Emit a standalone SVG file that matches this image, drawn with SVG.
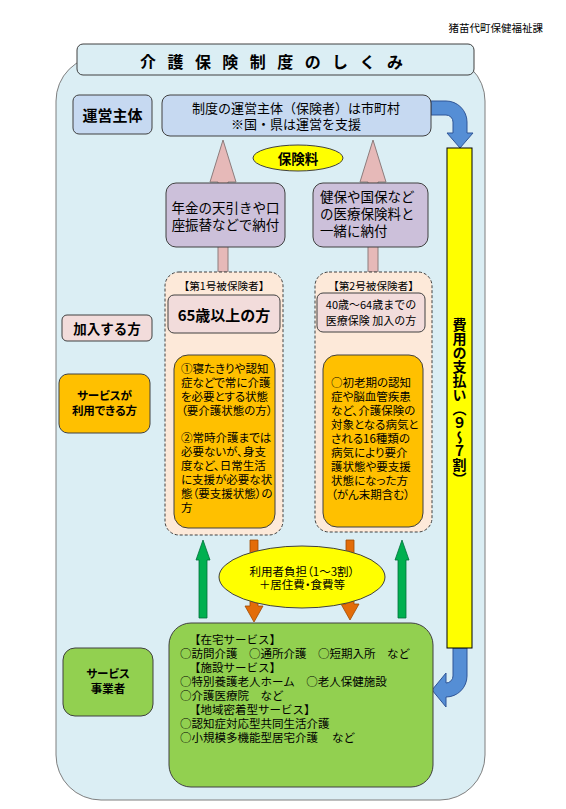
<svg xmlns="http://www.w3.org/2000/svg" width="566" height="809" viewBox="0 0 566 809">
<defs>
<style>
text{font-family:"Noto Sans CJK JP","Noto Sans CJK SC",sans-serif;fill:#000;dominant-baseline:central}
.b{font-weight:bold}
.m{text-anchor:middle}
.p{font-feature-settings:"palt"}
.bx{stroke:#404040;stroke-width:1}
.dash{fill:#fde9d9;stroke:#404040;stroke-width:1;stroke-dasharray:3 2}
.org{fill:#ffc000;stroke:#404040;stroke-width:1}
.pink{fill:#e6b9b8;stroke:#8c7c7c;stroke-width:1}
.red{fill:#ff0000;stroke:#c00000;stroke-width:1}
.oar{fill:#e36c09;stroke:#a04a00;stroke-width:0.8}
.gar{fill:#00b050;stroke:#00703a;stroke-width:0.8}
.blue{fill:#558ed5;stroke:#2f5597;stroke-width:1}
</style>
</defs>
<rect width="566" height="809" fill="#fff"/>
<text x="543" y="27" text-anchor="end" font-size="10.5">猪苗代町保健福祉課</text>
<rect id="frame" x="56" y="56" width="429" height="744" rx="45" fill="#dbeef4" stroke="#7f7f7f"/>

<g id="title">
<rect x="77" y="44" width="397" height="31" rx="6" fill="#dbeef4" class="bx"/>
<text class="b m" font-size="16" x="148 175.4 202.9 230.3 257.8 285.2 312.7 340.1 367.6 395" y="61">介護保険制度のしくみ</text>
</g>

<g id="connectors">
<polygon class="pink" points="223,140 236,182 228,182 228,272 218,272 218,182 210,182"/>
<polygon class="pink" points="373,140 386,182 378,182 378,272 368,272 368,182 360,182"/>
<polygon class="red" points="220,335 226,335 226,345 232,345 223,355 214,345 220,345"/>
<polygon class="red" points="372,335 378,335 378,345 384,345 375,355 366,345 372,345"/>
<polygon class="oar" points="250,540 258,540 258,606 263,606 254,622 245,606 250,606"/>
<polygon class="oar" points="346,540 354,540 354,604 359,604 350,620 341,604 346,604"/>
<polygon class="gar" points="203,540 210,560 207,560 207,618 199,618 199,560 196,560"/>
<polygon class="gar" points="402,540 409,560 406,560 406,618 398,618 398,560 395,560"/>
<path class="blue" d="M431,101 H446 A21,21 0 0 1 467,122 V133 H473 L460,148 L447,133 H453 V122 A7,7 0 0 0 446,115 H431 Z"/>
<path class="blue" d="M453,648 H467 V676 A21,21 0 0 1 446,697 V707 L432,690 L446,673 V683 A7,7 0 0 0 453,676 Z"/>
</g>

<g id="unei-label">
<rect x="73" y="95" width="79" height="39" rx="6" fill="#c6d9f1" class="bx"/>
<text class="b m" x="112.5" y="114.5" font-size="15">運営主体</text>
</g>
<g id="unei-main">
<rect x="162" y="95" width="269" height="41" rx="8" fill="#c6d9f1" class="bx"/>
<text class="m" font-size="13"><tspan x="296" y="107">制度の運営主体（保険者）は市町村</tspan><tspan x="296" y="123">※国・県は運営を支援</tspan></text>
</g>
<g id="hokenryo">
<ellipse cx="298" cy="158" rx="45" ry="13" fill="#ffff00" class="bx"/>
<text class="b m" x="298" y="158" font-size="13.5">保険料</text>
</g>
<g id="nofu1">
<rect x="166" y="183" width="119" height="64" rx="10" fill="#ccc0da" class="bx"/>
<text class="m" font-size="13.5"><tspan x="225.5" y="207">年金の天引きや口</tspan><tspan x="225.5" y="224">座振替などで納付</tspan></text>
</g>
<g id="nofu2">
<rect x="313" y="183" width="115" height="64" rx="10" fill="#ccc0da" class="bx"/>
<text font-size="13.5"><tspan x="320" y="196">健保や国保など</tspan><tspan x="320" y="213">の医療保険料と</tspan><tspan x="320" y="230">一緒に納付</tspan></text>
</g>

<g id="kanyu-label">
<rect x="62" y="315" width="90" height="26" rx="5" fill="#f2dcdb" class="bx"/>
<text class="b m" x="107" y="328" font-size="13.5">加入する方</text>
</g>
<g id="riyou-label">
<rect x="59" y="374" width="91" height="59" rx="9" class="org"/>
<text class="b m p" font-size="11.5"><tspan x="104.5" y="395">サービスが</tspan><tspan x="104.5" y="410">利用できる方</tspan></text>
</g>
<g id="jigyosha-label">
<rect x="63" y="648" width="90" height="68" rx="12" fill="#92d050" class="bx"/>
<text class="b m p" font-size="11.5"><tspan x="108" y="673">サービス</tspan><tspan x="108" y="688">事業者</tspan></text>
</g>

<g id="hihokensha1">
<rect x="165" y="272" width="118" height="263" rx="14" class="dash"/>
<text class="m" x="224" y="285" font-size="10.6">【第1号被保険者】</text>
<rect x="168" y="295" width="112" height="38" rx="6" fill="#f2dcdb" class="bx"/>
<text class="b m" x="224" y="314" font-size="15">65歳以上の方</text>
<rect x="174" y="355" width="101" height="173" rx="14" class="org"/>
<text class="p" font-size="11.5"><tspan x="181" y="368">①寝たきりや認知</tspan><tspan x="181" y="382">症などで常に介護</tspan><tspan x="181" y="396">を必要とする状態</tspan><tspan x="181" y="410">（要介護状態の方）</tspan><tspan x="181" y="437">②常時介護までは</tspan><tspan x="181" y="451">必要ないが、身支</tspan><tspan x="181" y="465">度など、日常生活</tspan><tspan x="181" y="479">に支援が必要な状</tspan><tspan x="181" y="493">態（要支援状態）の</tspan><tspan x="181" y="507">方</tspan></text>
</g>

<g id="hihokensha2">
<rect x="315" y="272" width="117" height="260" rx="14" class="dash"/>
<text class="m" x="373.5" y="285" font-size="10.6">【第2号被保険者】</text>
<rect x="317" y="293" width="108" height="39" rx="6" fill="#f2dcdb" class="bx"/>
<text class="m" font-size="11"><tspan x="371" y="304">40歳～64歳までの</tspan><tspan x="371" y="320">医療保険 加入の方</tspan></text>
<rect x="323" y="355" width="100" height="172" rx="14" class="org"/>
<text class="p" font-size="11.5"><tspan x="331" y="382">○初老期の認知</tspan><tspan x="331" y="396">症や脳血管疾患</tspan><tspan x="331" y="410">など、介護保険の</tspan><tspan x="331" y="424">対象となる病気と</tspan><tspan x="331" y="438">される16種類の</tspan><tspan x="331" y="452">病気により要介</tspan><tspan x="331" y="466">護状態や要支援</tspan><tspan x="331" y="480">状態になった方</tspan><tspan x="331" y="494">（がん末期含む）</tspan></text>
</g>

<g id="futan">
<ellipse cx="302" cy="577" rx="83" ry="31" fill="#ffff00" class="bx"/>
<text class="m p" font-size="11.5"><tspan x="302" y="571">利用者負担（1～3割）</tspan><tspan x="302" y="584">＋居住費・食費等</tspan></text>
</g>

<g id="shiharai">
<rect x="447" y="148" width="25" height="500" fill="#ffff00" stroke="#000" stroke-width="1"/>
<text class="b" x="459.5" y="318" font-size="14" writing-mode="vertical-rl" style="dominant-baseline:auto">費用の支払い（９～７割）</text>
</g>

<g id="services">
<rect x="169" y="623" width="264" height="164" rx="22" fill="#92d050" class="bx"/>
<text font-size="11.5"><tspan x="189" y="639">【在宅サービス】</tspan><tspan x="180" y="653">○訪問介護　○通所介護　○短期入所　など</tspan><tspan x="189" y="667">【施設サービス】</tspan><tspan x="180" y="681">○特別養護老人ホーム　○老人保健施設</tspan><tspan x="180" y="695">○介護医療院　など</tspan><tspan x="189" y="709">【地域密着型サービス】</tspan><tspan x="180" y="723">○認知症対応型共同生活介護</tspan><tspan x="180" y="737">○小規模多機能型居宅介護　 など</tspan></text>
</g>
</svg>
